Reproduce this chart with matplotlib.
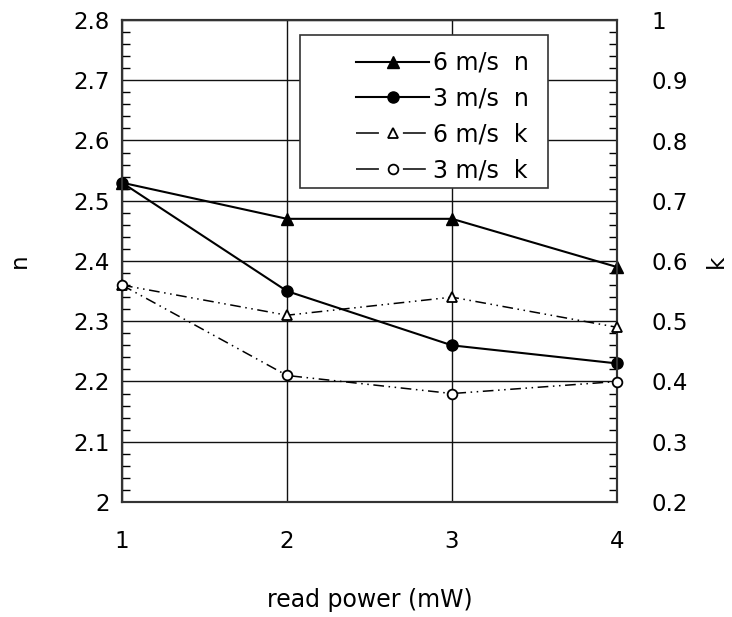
import matplotlib.pyplot as plt
from matplotlib.ticker import MultipleLocator, FuncFormatter
from matplotlib.patches import Rectangle
from matplotlib.lines import Line2D

# data
power = [1, 2, 3, 4]
n_6ms = [2.53, 2.47, 2.47, 2.39]
n_3ms = [2.53, 2.35, 2.26, 2.23]
k_6ms = [0.56, 0.51, 0.54, 0.49]
k_3ms = [0.56, 0.41, 0.38, 0.40]
labels = ["6 m/s  n", "3 m/s  n", "6 m/s  k", "3 m/s  k"]

plt.rcParams['font.family'] = ['DejaVu Sans']
fs = 16.5

fig = plt.figure(figsize=(7.32, 6.17), dpi=100, facecolor='w')
ax = fig.add_axes([122 / 732, 115 / 617, 495 / 732, 482 / 617])
ax2 = ax.twinx()

# n on left axis
l1, = ax.plot(power, n_6ms, color='k', lw=1.5, marker='^', ms=8,
              clip_on=False, zorder=5)
l2, = ax.plot(power, n_3ms, color='k', lw=1.5, marker='o', ms=8,
              clip_on=False, zorder=5)

# k on right axis, dash-dot-dot
dd = (0, (7, 3, 1, 3, 1, 3))
ax2.plot(power, k_6ms, color='k', lw=1.1, ls=dd, marker='^', ms=7,
         mfc='white', mec='k', mew=1.3, clip_on=False, zorder=5)
ax2.plot(power, k_3ms, color='k', lw=1.1, ls=dd, marker='o', ms=7,
         mfc='white', mec='k', mew=1.3, clip_on=False, zorder=5)

# legend handles for k: dash - marker - dash
ld = (0, (15, 15.7, 15, 20))
l3 = Line2D([], [], color='k', lw=1.1, ls=ld, marker='^', ms=7,
            mfc='white', mec='k', mew=1.3)
l4 = Line2D([], [], color='k', lw=1.1, ls=ld, marker='o', ms=7,
            mfc='white', mec='k', mew=1.3)

ax.set_xlim(1, 4)
ax.set_ylim(2, 2.8)
ax2.set_ylim(0.2, 1)
ax.set_xticks(power)
fmt = FuncFormatter(lambda v, p: f"{round(v, 2):g}")
for a in (ax, ax2):
    a.yaxis.set_major_locator(MultipleLocator(0.1))
    a.yaxis.set_minor_locator(MultipleLocator(0.02))
    a.yaxis.set_major_formatter(fmt)

ax.grid(True, which='major', color='#111111', lw=1.0)
ax.set_axisbelow(True)
ax.tick_params(axis='x', length=0, pad=20, labelsize=fs)
ax.tick_params(axis='y', which='major', length=0, pad=9, labelsize=fs)
ax.tick_params(axis='y', which='minor', direction='in', length=6, width=1)
ax2.tick_params(axis='y', which='major', length=0, pad=25, labelsize=fs)
ax2.tick_params(axis='y', which='minor', direction='in', length=6, width=1)

for a in (ax, ax2):
    for s in a.spines.values():
        s.set_linewidth(1.5)
        s.set_color('#333333')

ax.set_xlabel("read power (mW)", fontsize=fs + 0.5, labelpad=25)
ax.set_ylabel("n", fontsize=fs, labelpad=30)
ax2.set_ylabel("k", fontsize=fs, labelpad=12)

# legend box drawn separately (wide left padding in the original)
box = Rectangle((0.3596, 0.6515), 0.501, 0.3174, transform=ax2.transAxes,
                facecolor='white', edgecolor='#333333', lw=1.2, zorder=6)
ax2.add_patch(box)
leg = ax2.legend([l1, l2, l3, l4], labels, loc='upper right',
                 bbox_to_anchor=(0.86, 0.975), fontsize=fs + 0.5,
                 frameon=False, handlelength=3.1, handletextpad=0.15,
                 labelspacing=0.5, borderpad=0.3)
leg.set_zorder(7)

plt.savefig("out.png", dpi=100)
